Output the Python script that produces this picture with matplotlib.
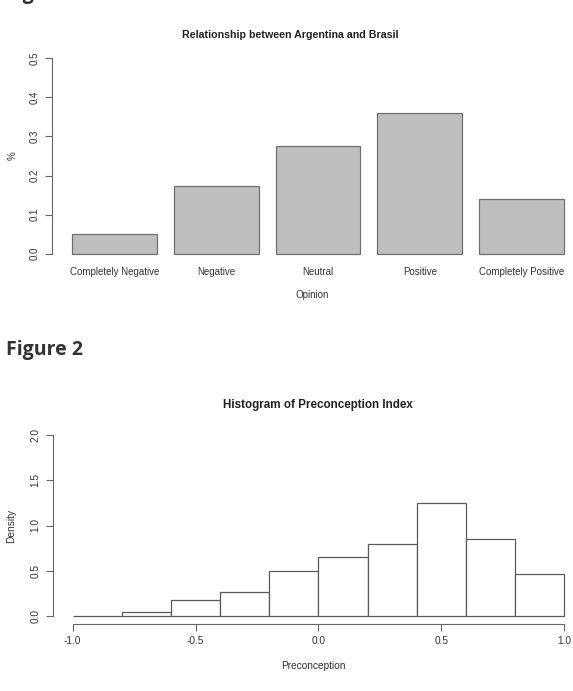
import matplotlib
matplotlib.use("Agg")
import matplotlib.pyplot as plt

# ---- data ----
opinions = ["Completely Negative", "Negative", "Neutral", "Positive", "Completely Positive"]
opinion_share = [0.051, 0.173, 0.275, 0.361, 0.139]
bar_yticks = [0.0, 0.1, 0.2, 0.3, 0.4, 0.5]

bin_edges = [-1.0, -0.8, -0.6, -0.4, -0.2, 0.0, 0.2, 0.4, 0.6, 0.8, 1.0]
density = [0.007, 0.044, 0.176, 0.268, 0.499, 0.650, 0.796, 1.248, 0.848, 0.462]
hist_xticks = [-1.0, -0.5, 0.0, 0.5, 1.0]
hist_yticks = [0.0, 0.5, 1.0, 1.5, 2.0]

W, H = 573, 691
fig = plt.figure(figsize=(W / 100, H / 100), dpi=100)
fig.patch.set_facecolor("white")

RFONT = "Liberation Sans"
TXT = "#333333"
LINE = "#666666"
FS = 7
FS2 = 7.3


def px_axes(left, top, right, bottom):
    return fig.add_axes([left / W, 1 - bottom / H, (right - left) / W, (bottom - top) / H])


def style_axis(ax, fs):
    for s in ["top", "right", "bottom", "left"]:
        ax.spines[s].set_visible(False)
    ax.tick_params(axis="both", direction="out", length=5, width=0.8, color=LINE,
                   labelsize=fs, labelcolor=TXT)


# ---- "Figure 1" heading (cut off at top) ----
fig.text(6 / W, 1 + 1 / H, "Figure 1", fontsize=14, fontweight="bold",
         family="Open Sans", color=TXT, va="baseline", ha="left")

# ---- Figure 1: barplot ----
ax1 = px_axes(52.3, 50.5, 573, 261.5)
n = len(opinions)
centers = [0.7 + 1.2 * i for i in range(n)]
ax1.bar(centers, opinion_share, width=1.0, color="#bebebe", edgecolor="#707070", linewidth=0.9)
ax1.set_xlim(-0.032, 6.0 + (573 - 564) / 84.8)
ax1.set_ylim(-0.02, 0.52)
style_axis(ax1, FS)
ax1.spines["left"].set_visible(True)
ax1.spines["left"].set_color(LINE)
ax1.spines["left"].set_linewidth(0.8)
ax1.spines["left"].set_bounds(0, 0.5)
ax1.set_yticks(bar_yticks)
ax1.set_yticklabels([f"{v:.1f}" for v in bar_yticks], rotation=90, va="center",
                    family=RFONT, fontsize=FS, color=TXT)
ax1.tick_params(axis="y", pad=4)
ax1.set_xticks(centers)
ax1.set_xticklabels(opinions, family=RFONT, fontsize=FS, color=TXT)
ax1.tick_params(axis="x", length=0, pad=4)
ax1.set_xlabel("Opinion", family=RFONT, fontsize=FS, color=TXT, labelpad=9)
ax1.set_ylabel("%", family=RFONT, fontsize=FS, color=TXT, labelpad=9)
fig.text(290.5 / W, 1 - 35 / H, "Relationship between Argentina and Brasil", family=RFONT,
         fontsize=7.65, fontweight="bold", color="#222222", ha="center", va="center")

# ---- "Figure 2" heading ----
fig.text(6 / W, 1 - 355 / H, "Figure 2", fontsize=14, fontweight="bold",
         family="Open Sans", color=TXT, va="baseline", ha="left")

# ---- Figure 2: histogram ----
ax2 = px_axes(53.0, 427.4, 573, 623.6)
lefts = bin_edges[:-1]
widths = [bin_edges[i + 1] - bin_edges[i] for i in range(len(lefts))]
ax2.bar(lefts, density, width=widths, align="edge", color="white",
        edgecolor="#5a5a5a", linewidth=0.9)
ax2.set_xlim(-1.08, 1.0 + (573 - 564.3) / 245.8)
ax2.set_ylim(-0.08, 2.08)
style_axis(ax2, FS2)
for s in ["left", "bottom"]:
    ax2.spines[s].set_visible(True)
    ax2.spines[s].set_color(LINE)
    ax2.spines[s].set_linewidth(0.8)
ax2.spines["left"].set_bounds(0, 2)
ax2.spines["bottom"].set_bounds(-1, 1)
ax2.set_yticks(hist_yticks)
ax2.set_yticklabels([f"{v:.1f}" for v in hist_yticks], rotation=90, va="center",
                    family=RFONT, fontsize=FS2, color=TXT)
ax2.set_xticks(hist_xticks)
ax2.set_xticklabels([f"{v:.1f}" for v in hist_xticks], family=RFONT, fontsize=FS2, color=TXT)
ax2.tick_params(axis="y", pad=4)
ax2.tick_params(axis="x", pad=4)
ax2.set_xlabel("Preconception", family=RFONT, fontsize=FS2, color=TXT, labelpad=11)
ax2.set_ylabel("Density", family=RFONT, fontsize=FS2, color=TXT, labelpad=10)
fig.text(317.5 / W, 1 - 404.7 / H, "Histogram of Preconception Index", family=RFONT,
         fontsize=8.4, fontweight="bold", color="#222222", ha="center", va="center")

fig.savefig("out.png", dpi=100, facecolor="white")
